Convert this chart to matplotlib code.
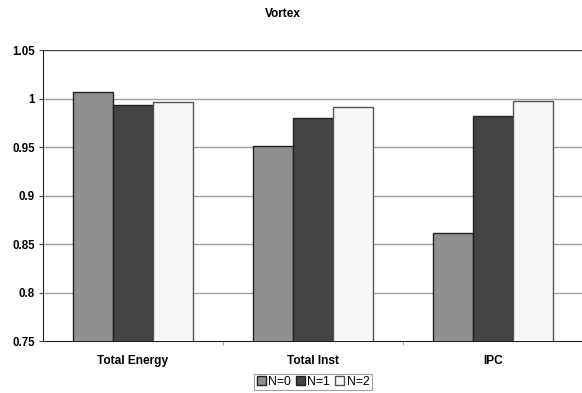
import matplotlib
matplotlib.use("Agg")
import matplotlib.pyplot as plt
import numpy as np
from matplotlib.patches import Patch

plt.rcParams['font.family'] = ['Liberation Sans', 'DejaVu Sans']

categories = ["Total Energy", "Total Inst", "IPC"]
series_names = ["N=0", "N=1", "N=2"]
n0 = [1.007, 0.951, 0.861]
n1 = [0.993, 0.980, 0.982]
n2 = [0.996, 0.991, 0.997]
yticks = [0.75, 0.8, 0.85, 0.9, 0.95, 1.0, 1.05]
ytick_labels = ["0.75", "0.8", "0.85", "0.9", "0.95", "1", "1.05"]

colors = ["#8f8f8f", "#444444", "#f7f7f7"]
edges = ["#222222", "#222222", "#555555"]

fig = plt.figure(figsize=(5.82, 3.93), dpi=100)
ax = fig.add_axes([43/582, 52/393, 540/582, 291/393])

x = np.arange(len(categories))
w = 0.222
for k, vals in enumerate([n0, n1, n2]):
    ax.bar(x + (k - 1) * w, vals, width=w, color=colors[k], edgecolor=edges[k],
           linewidth=1.0, zorder=3, label=series_names[k])

ax.set_xlim(-0.5, 2.5)
ax.set_ylim(0.75, 1.05)
ax.set_yticks(yticks)
ax.set_yticklabels(ytick_labels, fontsize=8.3, fontweight='bold')
ax.set_xticks(x)
ax.set_xticklabels(categories, fontsize=8.6, fontweight='bold')
ax.tick_params(axis='x', length=0, pad=10)
ax.set_xticks([0.5, 1.5], minor=True)
ax.tick_params(axis='x', which='minor', length=3, color='#999999')
ax.tick_params(axis='y', length=3, width=0.8, pad=3, color='#444444')

for t in yticks[1:-1]:
    ax.axhline(t, color='#a0a0a0', linewidth=1.0, zorder=1)
ax.axhline(1.05, color='#444444', linewidth=1.0, zorder=1)

for s in ['top', 'right']:
    ax.spines[s].set_visible(False)
ax.spines['left'].set_color('#222222')
ax.spines['bottom'].set_color('#222222')

fig.text(283/582, 1 - 14/393, "Vortex", ha='center', va='center', fontsize=8.6, fontweight='bold')

handles = [Patch(facecolor=colors[k], edgecolor=edges[k], label=series_names[k]) for k in range(3)]
leg = fig.legend(handles=handles, loc='center', bbox_to_anchor=(313/582, 1 - 382/393), ncol=3,
                 fontsize=8.8, frameon=True, fancybox=False, edgecolor='#888888',
                 handlelength=0.75, handleheight=0.75, handletextpad=0.2, columnspacing=0.4,
                 borderpad=0.2, borderaxespad=0)
leg.get_frame().set_linewidth(0.8)

fig.savefig("out.png", dpi=100)
